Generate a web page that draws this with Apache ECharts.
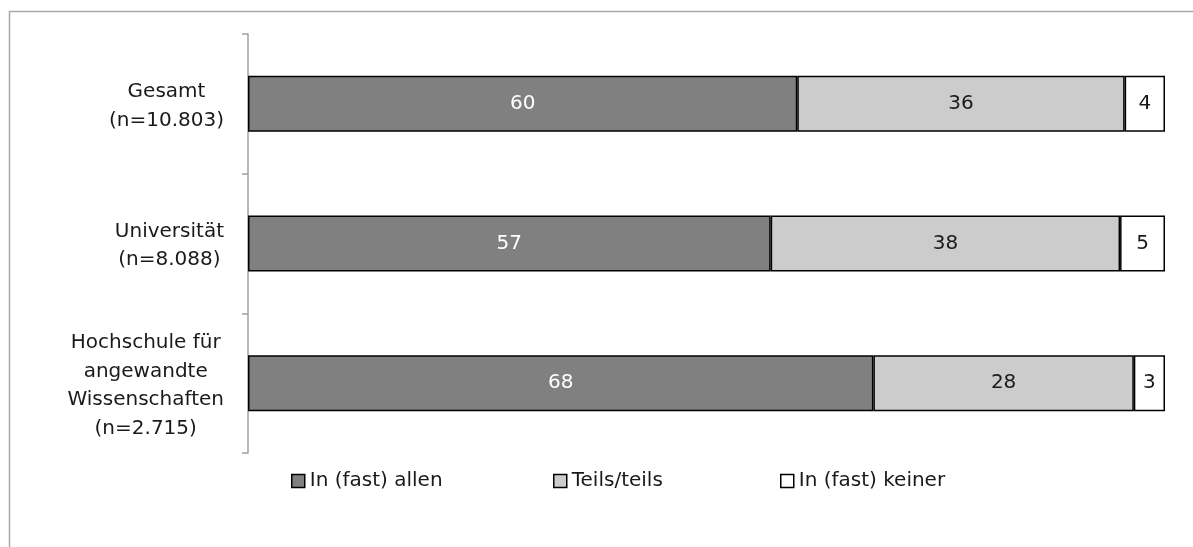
<!DOCTYPE html>
<html>
<head>
<meta charset="utf-8">
<script src="https://cdn.jsdelivr.net/npm/echarts@6/dist/echarts.min.js"></script>
<style>
html,body{margin:0;padding:0;background:#fff;}
#chart{width:1193px;height:547px;}
</style>
</head>
<body>
<div id="chart"></div>
<script>
const categories = ['Gesamt\n(n=10.803)', 'Universität\n(n=8.088)', 'Hochschule für\nangewandte\nWissenschaften\n(n=2.715)'];
const seriesNames = ['In (fast) allen', 'Teils/teils', 'In (fast) keiner'];
const allen = [59.9, 57.0, 68.2];
const teils = [35.7, 38.1, 28.4];
const keiner = [4.4, 4.9, 3.4];

const FONT = "'DejaVu Sans'";
const TXT = '#1a1a1a';
const chart = echarts.init(document.getElementById('chart'), null, {renderer: 'canvas'});

function mkSeries(name, data, color, labelColor) {
  return {
    name: name,
    type: 'bar',
    stack: 'total',
    data: data,
    barWidth: 56,
    itemStyle: {color: color, borderColor: '#000', borderWidth: 1.5},
    label: {
      show: true,
      position: 'inside',
      formatter: p => Math.round(p.value),
      fontFamily: FONT,
      fontSize: 20,
      color: labelColor
    },
    emphasis: {disabled: true}
  };
}

const legendBase = {
  orient: 'horizontal',
  top: 466,
  itemWidth: 13,
  itemHeight: 13,
  icon: 'rect',
  itemStyle: {borderColor: '#000', borderWidth: 1.5},
  textStyle: {fontFamily: FONT, fontSize: 20, color: TXT},
  selectedMode: false
};

chart.setOption({
  animation: false,
  backgroundColor: '#fff',
  grid: {left: 248, right: 28, top: 34, bottom: 94, containLabel: false},
  xAxis: {type: 'value', min: 0, max: 100, show: false},
  yAxis: {
    type: 'category',
    inverse: true,
    data: categories,
    axisLine: {show: true, lineStyle: {color: '#a0a0a0', width: 1.5}},
    axisTick: {show: true, length: 6, lineStyle: {color: '#a0a0a0', width: 1.5}},
    axisLabel: {
      margin: 24,
      align: 'right',
      padding: [5, 0, 0, 0],
      formatter: v => v.split('\n').map(s => '{c|' + s + '}').join('\n'),
      rich: {
        c: {align: 'center', fontFamily: FONT, fontSize: 20, color: TXT, lineHeight: 28.5}
      }
    }
  },
  legend: [
    Object.assign({}, legendBase, {left: 286, data: [seriesNames[0]]}),
    Object.assign({}, legendBase, {left: 548, data: [seriesNames[1]]}),
    Object.assign({}, legendBase, {left: 775, data: [seriesNames[2]]})
  ],
  graphic: [
    {type: 'rect', silent: true, z: -1,
     shape: {x: 9.5, y: 11.5, width: 1400, height: 800},
     style: {fill: 'none', stroke: '#a8a8a8', lineWidth: 1.5}}
  ],
  series: [
    mkSeries(seriesNames[0], allen, '#808080', '#ffffff'),
    mkSeries(seriesNames[1], teils, '#cccccc', TXT),
    mkSeries(seriesNames[2], keiner, '#ffffff', TXT)
  ]
});
</script>
</body>
</html>
